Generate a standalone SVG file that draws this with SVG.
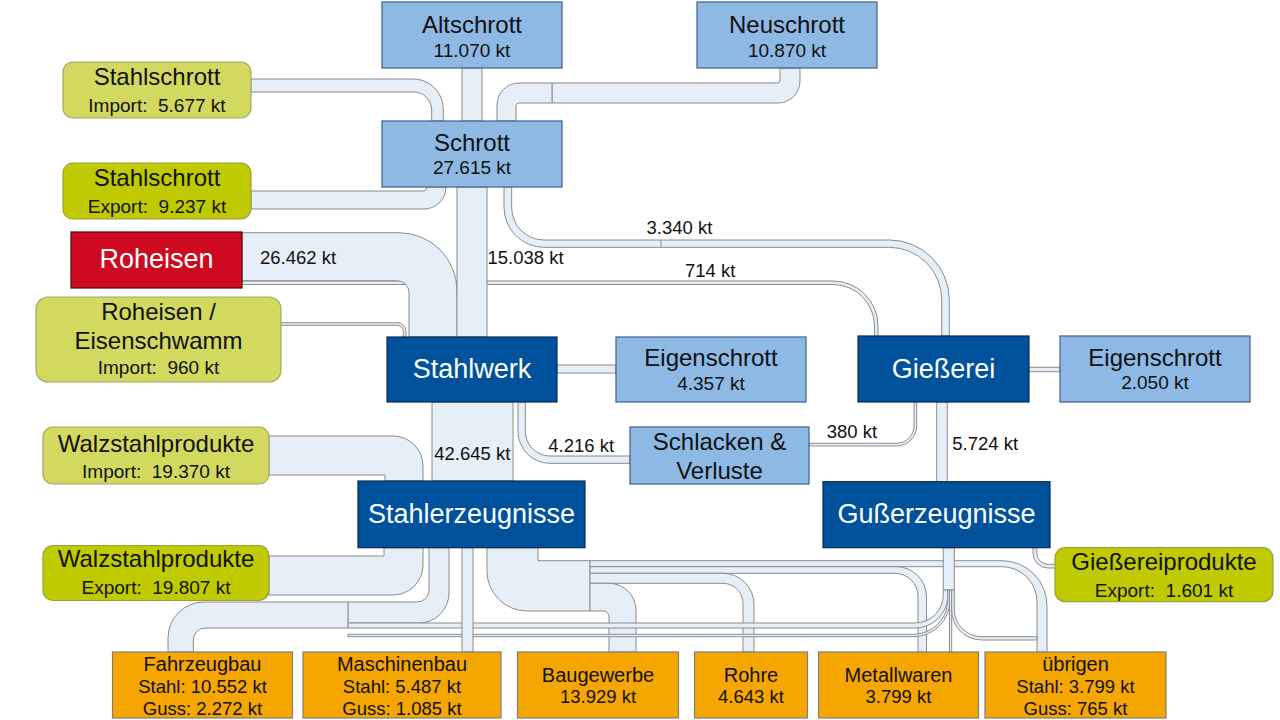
<svg xmlns="http://www.w3.org/2000/svg" width="1280" height="720" viewBox="0 0 1280 720">
<style>
.pipe{fill:#E6EEF8;stroke:#8C8C8C;stroke-width:1}
.div{stroke:#8C8C8C;stroke-width:1;fill:none}
.lb{fill:#8EB9E5;stroke:#3F5F8A;stroke-width:1.2}
.db{fill:#00529C;stroke:#0B2A50;stroke-width:1.2}
.red{fill:#CE0A20;stroke:#4D0A0F;stroke-width:1.2}
.imp{fill:#D2D95E;stroke:#A3A66A;stroke-width:1.2}
.exp{fill:#BFCB00;stroke:#97A040;stroke-width:1.2}
.org{fill:#F5A600;stroke:#7F7F7F;stroke-width:1.2}
text{font-family:"Liberation Sans",Arial,sans-serif;fill:#111;text-anchor:middle}
.t{font-size:24px}
.s{font-size:19px;white-space:pre}
.w{font-size:27px;fill:#fff}
.b{font-size:20px}
.v{font-size:18.5px}
.l{font-size:18.5px;text-anchor:start}
</style>
<g id="connectors">
  <path class="pipe" d="M242,281 H833 A45,45 0 0 1 878,326 V337 H874.5 V326 A41.5,41.5 0 0 0 833,284.5 H242 Z"/>
  <path class="pipe" d="M281,322.7 H397 A9,9 0 0 1 406,331.7 V337 H403.4 V331.7 A6.4,6.4 0 0 0 397,325.3 H281 Z"/>
  <path class="pipe" d="M242,232.7 H399 A58,58 0 0 1 457,290.7 V337 H409 V292.7 A12,12 0 0 0 397,280.7 H242 Z"/>
  <path class="pipe" d="M251,79 H413.3 A30,30 0 0 1 443.3,109 V121 H431.7 V110 A18,18 0 0 0 413.7,92 H251 Z"/>
  <path class="pipe" d="M427,187 A4,4 0 0 1 423,191 H251 V209 H424 A22,22 0 0 0 446,187 Z"/>
  <rect class="pipe" x="462" y="68" width="20" height="53"/>
  <path class="pipe" d="M780,68 V80 A3,3 0 0 1 777,83 H552 V103 H778 A22,22 0 0 0 800,81 V68 Z"/>
  <path class="pipe" d="M552,83 H519 A22,22 0 0 0 497,105 V121 H516 V106 A3,3 0 0 1 519,103 H552 Z"/>
  <rect class="pipe" x="457" y="187" width="30" height="150"/>
  <path class="pipe" d="M504,187 V207.3 A40,40 0 0 0 544,247.3 H889.3 A52.4,52.4 0 0 1 941.7,299.7 V336 H949.3 V300 A60,60 0 0 0 889.3,240 H544 A32.3,32.3 0 0 1 511.7,207.7 V187 Z"/>
  <line class="div" x1="661" y1="240" x2="661" y2="247.3"/>
  <rect class="pipe" x="557" y="365" width="59" height="8"/>
  <rect class="pipe" x="1029" y="367.3" width="31" height="4.4"/>
  <rect class="pipe" x="432" y="402" width="81" height="79"/>
  <path class="pipe" d="M518,402 V431.3 A32,32 0 0 0 550,463.3 H630 V456 H550 A24.7,24.7 0 0 1 525.3,431.3 V402 Z"/>
  <path class="pipe" d="M914,402 V426 A17.3,17.3 0 0 1 896.7,443.3 H809 V446 H896.7 A20,20 0 0 0 916.7,426 V402 Z"/>
  <rect class="pipe" x="936.7" y="402" width="10.6" height="79.7"/>
  <path class="pipe" d="M269,436 H393 A30,30 0 0 1 423,466 V481 H385 V475 H269 Z"/>
  <path class="pipe" d="M384,547.7 V556 H269 V595 H393 A30,30 0 0 0 423,565 V547.7 Z"/>
  <path class="pipe" d="M429,547.7 V590 A12,12 0 0 1 417,602 H348 V623 H419 A30,30 0 0 0 449,593 V547.7 Z"/>
  <path class="pipe" d="M348,602 H204 A36,36 0 0 0 168,638 V652 H193.3 V640 A12,12 0 0 1 205.3,628 H348 Z"/>
  <path class="pipe" d="M487,547.7 V571 A40,40 0 0 0 527,611 H590 V560.7 H538 V547.7 Z"/>
  <path class="pipe" d="M590,560.7 H1002 A45,45 0 0 1 1047,605.7 V652 H1037 V601.7 A35,35 0 0 0 1002,566.7 H590 Z"/>
  <path class="pipe" d="M590,566.7 H896.5 A30,30 0 0 1 926.5,596.7 V652 H918 V596.3 A23,23 0 0 0 895,573.3 H590 Z"/>
  <path class="pipe" d="M590,573.3 H723 A31,31 0 0 1 754,604.3 V652 H743 V603.3 A20,20 0 0 0 723,583.3 H590 Z"/>
  <path class="pipe" d="M590,583.3 H609 A27,27 0 0 1 636,610.3 V652 H609 V617 A6,6 0 0 0 603,611 H590 Z"/>
  <rect class="pipe" x="943.3" y="547.7" width="11" height="42.3"/>
  <path class="pipe" d="M943.3,590 V595 A28,28 0 0 1 915.3,623 H348 V628 H915.3 A32.5,32.5 0 0 0 947.8,595.5 V590 Z"/>
  <path class="pipe" d="M947.8,590 V600 A34.3,34.3 0 0 1 913.5,634.3 H348 V636.7 H913.5 A36.5,36.5 0 0 0 950,600 V590 Z"/>
  <rect class="pipe" x="949.5" y="590" width="2.2" height="62"/>
  <path class="pipe" d="M951.7,590 V610 A30,30 0 0 0 981.7,640 H1037 V636.7 H981.7 A27.2,27.2 0 0 1 954.3,609.5 V590 Z"/>
  <path class="pipe" d="M1033,547.7 V553 A15,15 0 0 0 1048,568 H1056 V564.3 H1048 A11.3,11.3 0 0 1 1036.7,553 V547.7 Z"/>
  <rect class="pipe" x="462" y="547.7" width="11" height="104.3"/>
</g>
<g id="labels">
  <text class="l" x="260" y="263.5">26.462 kt</text>
  <text class="l" x="487.5" y="264">15.038 kt</text>
  <text class="l" x="646.5" y="234">3.340 kt</text>
  <text class="l" x="685" y="277.3">714 kt</text>
  <text class="l" x="434.3" y="460">42.645 kt</text>
  <text class="l" x="548.3" y="452.3">4.216 kt</text>
  <text class="l" x="826.7" y="438.3">380 kt</text>
  <text class="l" x="952.3" y="450">5.724 kt</text>
</g>
<g id="altschrott"><rect class="lb" x="382" y="2" width="180" height="66"/><text class="t" x="472" y="32.7">Altschrott</text><text class="s" x="472" y="56.7">11.070 kt</text></g>
<g id="neuschrott"><rect class="lb" x="697" y="2" width="180" height="66"/><text class="t" x="787" y="32.7">Neuschrott</text><text class="s" x="787" y="56.7">10.870 kt</text></g>
<g id="stahlschrott-import"><rect class="imp" x="63" y="62" width="188" height="56" rx="10"/><text class="t" x="157" y="85">Stahlschrott</text><text class="s" x="157" y="111.7">Import:  5.677 kt</text></g>
<g id="schrott"><rect class="lb" x="382" y="121" width="180" height="66"/><text class="t" x="472" y="150.7">Schrott</text><text class="s" x="472" y="174.3">27.615 kt</text></g>
<g id="stahlschrott-export"><rect class="exp" x="63" y="163" width="188" height="56" rx="10"/><text class="t" x="157" y="186">Stahlschrott</text><text class="s" x="157" y="212.7">Export:  9.237 kt</text></g>
<g id="roheisen"><rect class="red" x="71" y="232" width="171" height="56"/><text class="w" x="156.5" y="268.3">Roheisen</text></g>
<g id="roheisen-import"><rect class="imp" x="36" y="297" width="245" height="85" rx="12"/><text class="t" x="158.5" y="320">Roheisen /</text><text class="t" x="158.5" y="349">Eisenschwamm</text><text class="s" x="158.5" y="374">Import:  960 kt</text></g>
<g id="stahlwerk"><rect class="db" x="387" y="337" width="170" height="65"/><text class="w" x="472" y="378.3">Stahlwerk</text></g>
<g id="eigenschrott-1"><rect class="lb" x="616" y="337" width="190" height="65"/><text class="t" x="711" y="365.7">Eigenschrott</text><text class="s" x="711" y="390">4.357 kt</text></g>
<g id="giesserei"><rect class="db" x="858" y="336" width="171" height="66"/><text class="w" x="943.5" y="378.3">Gießerei</text></g>
<g id="eigenschrott-2"><rect class="lb" x="1060" y="336" width="190" height="66"/><text class="t" x="1155" y="365.7">Eigenschrott</text><text class="s" x="1155" y="389.3">2.050 kt</text></g>
<g id="schlacken"><rect class="lb" x="630" y="427" width="179" height="57"/><text class="t" x="719.5" y="450">Schlacken &amp;</text><text class="t" x="719.5" y="479">Verluste</text></g>
<g id="walzstahl-import"><rect class="imp" x="43" y="427" width="226" height="57" rx="10"/><text class="t" x="156" y="451.7">Walzstahlprodukte</text><text class="s" x="156" y="478.3">Import:  19.370 kt</text></g>
<g id="walzstahl-export"><rect class="exp" x="43" y="545.5" width="226" height="55" rx="10"/><text class="t" x="156" y="566.7">Walzstahlprodukte</text><text class="s" x="156" y="594.3">Export:  19.807 kt</text></g>
<g id="stahlerzeugnisse"><rect class="db" x="358" y="481" width="227" height="66.7"/><text class="w" x="471.5" y="523.3">Stahlerzeugnisse</text></g>
<g id="gusserzeugnisse"><rect class="db" x="823" y="481.7" width="227" height="66"/><text class="w" x="936.5" y="522.7">Gußerzeugnisse</text></g>
<g id="giessereiprodukte"><rect class="exp" x="1055" y="547.7" width="218" height="54" rx="10"/><text class="t" x="1164" y="570">Gießereiprodukte</text><text class="s" x="1164" y="596.7">Export:  1.601 kt</text></g>
<g id="fahrzeugbau"><rect class="org" x="112.5" y="652" width="180" height="66"/><text class="b" x="202.5" y="670.7">Fahrzeugbau</text><text class="v" x="202.5" y="693.3">Stahl: 10.552 kt</text><text class="v" x="202.5" y="715">Guss: 2.272 kt</text></g>
<g id="maschinenbau"><rect class="org" x="303" y="652" width="198" height="66"/><text class="b" x="402" y="670.7">Maschinenbau</text><text class="v" x="402" y="693.3">Stahl: 5.487 kt</text><text class="v" x="402" y="715">Guss: 1.085 kt</text></g>
<g id="baugewerbe"><rect class="org" x="517.5" y="652" width="161" height="66"/><text class="b" x="598" y="681.7">Baugewerbe</text><text class="v" x="598" y="703.3">13.929 kt</text></g>
<g id="rohre"><rect class="org" x="694.5" y="652" width="113" height="66"/><text class="b" x="751" y="681.7">Rohre</text><text class="v" x="751" y="703.3">4.643 kt</text></g>
<g id="metallwaren"><rect class="org" x="818.5" y="652" width="160" height="66"/><text class="b" x="898.5" y="681.7">Metallwaren</text><text class="v" x="898.5" y="703.3">3.799 kt</text></g>
<g id="uebrigen"><rect class="org" x="985" y="652" width="181" height="66"/><text class="b" x="1075.5" y="670.7">übrigen</text><text class="v" x="1075.5" y="693.3">Stahl: 3.799 kt</text><text class="v" x="1075.5" y="715">Guss: 765 kt</text></g>
</svg>
